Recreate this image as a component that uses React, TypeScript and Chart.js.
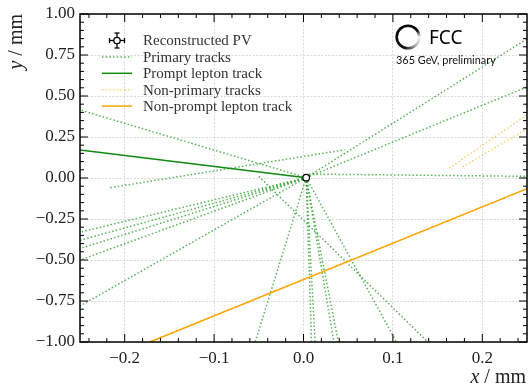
import { useEffect, useRef } from "react";
import { Chart, registerables } from "chart.js";
Chart.register(...registerables);

// ---- data ----
const pvX = [0.003];
const pvY = [0.002];

// primary tracks: [startX, startY, endX, endY]
const primaryTracks: number[][] = [
  [0.003, 0.002, 0.25, 0.848],
  [0.003, 0.002, 0.25, 0.555],
  [0.006, 0.024, 0.25, 0.01],
  [-0.216, -0.059, 0.046, 0.172],
  [0.003, 0.002, -0.25, 0.415],
  [0.003, 0.002, -0.25, -0.33],
  [0.003, 0.002, -0.25, -0.38],
  [0.003, 0.002, -0.25, -0.43],
  [0.003, 0.002, -0.25, -0.5],
  [0.003, 0.002, -0.25, -0.78],
  [0.003, 0.002, -0.054, -1.0],
  [0.003, 0.002, 0.009, -1.0],
  [0.003, 0.002, 0.013, -1.0],
  [0.003, 0.002, 0.034, -1.0],
  [0.003, 0.002, 0.039, -1.0],
  [0.003, 0.002, 0.104, -1.0],
  [-0.05, 0.01, 0.139, -1.0],
];
const promptLeptonX = [-0.25, 0.003];
const promptLeptonY = [0.171, 0.002];
const nonPrimaryTracks: number[][] = [
  [0.163, 0.06, 0.25, 0.385],
  [0.178, 0.068, 0.25, 0.3],
];
const nonPromptLeptonX = [-0.172, 0.25];
const nonPromptLeptonY = [-1.0, -0.065];

const xTicks = [-0.2, -0.1, 0, 0.1, 0.2];
const yTicks = [-1, -0.75, -0.5, -0.25, 0, 0.25, 0.5, 0.75, 1];
const xMinorTicks = [-0.24, -0.22, -0.18, -0.16, -0.14, -0.12, -0.08, -0.06, -0.04, -0.02,
  0.02, 0.04, 0.06, 0.08, 0.12, 0.14, 0.16, 0.18, 0.22, 0.24];
const yMinorTicks = [-0.95, -0.9, -0.85, -0.8, -0.7, -0.65, -0.6, -0.55, -0.45, -0.4, -0.35, -0.3,
  -0.2, -0.15, -0.1, -0.05, 0.05, 0.1, 0.15, 0.2, 0.3, 0.35, 0.4, 0.45, 0.55, 0.6, 0.65, 0.7,
  0.8, 0.85, 0.9, 0.95];
const legendLabels = ["Reconstructed PV", "Primary tracks", "Prompt lepton track", "Non-primary tracks", "Non-prompt lepton track"];
const logoText = "FCC";
const energyText = "365 GeV, preliminary";

// ---- styles ----
const primaryColor = "rgba(44,160,44,0.8)";
const promptColor = "#108a10";
const nonPrimaryColor = "rgba(255,165,0,0.55)";
const nonPromptColor = "#ffa500";
const dotDash = [1.5, 2.2];
const serif = "Liberation Serif";

const fmt = (v: number, d: number) => {
  const s = Math.abs(v).toFixed(d);
  return (v < -1e-9 ? "\u2212" : "") + s;
};

const decor = {
  id: "decor",
  afterDraw(chart: any) {
    const { ctx, chartArea: a, scales } = chart;
    const xs = scales.x, ys = scales.y;
    ctx.save();
    ctx.strokeStyle = "#000";
    ctx.lineWidth = 1;
    const vline = (px: number, y0: number, y1: number) => { ctx.beginPath(); ctx.moveTo(px, y0); ctx.lineTo(px, y1); ctx.stroke(); };
    const hline = (py: number, x0: number, x1: number) => { ctx.beginPath(); ctx.moveTo(x0, py); ctx.lineTo(x1, py); ctx.stroke(); };
    xTicks.forEach((v) => { const p = xs.getPixelForValue(v); vline(p, a.bottom, a.bottom - 8); vline(p, a.top, a.top + 8); });
    xMinorTicks.forEach((v) => { const p = xs.getPixelForValue(v); vline(p, a.bottom, a.bottom - 4); vline(p, a.top, a.top + 4); });
    yTicks.forEach((v) => { const p = ys.getPixelForValue(v); hline(p, a.left, a.left + 8); hline(p, a.right, a.right - 8); });
    yMinorTicks.forEach((v) => { const p = ys.getPixelForValue(v); hline(p, a.left, a.left + 4); hline(p, a.right, a.right - 4); });
    ctx.lineWidth = 1.5;
    ctx.strokeRect(a.left, a.top, a.right - a.left, a.bottom - a.top);

    // legend
    const lx0 = 102, lx1 = 132, tx = 143, ly0 = 40.5, dy = 16.4;
    ctx.font = "15px '" + serif + "', serif";
    ctx.textBaseline = "middle";
    ctx.textAlign = "left";
    legendLabels.forEach((lab, i) => {
      const yy = ly0 + i * dy;
      ctx.fillStyle = "#333";
      ctx.fillText(lab, tx, yy + 1);
      ctx.setLineDash([]);
      if (i === 0) {
        const cx = 117;
        ctx.strokeStyle = "#000"; ctx.lineWidth = 1.3;
        hline(yy, cx - 7.5, cx + 7.5); vline(cx, yy - 7.5, yy + 7.5);
        hline(yy - 7.5, cx - 2.5, cx + 2.5); hline(yy + 7.5, cx - 2.5, cx + 2.5);
        vline(cx - 7.5, yy - 2.5, yy + 2.5); vline(cx + 7.5, yy - 2.5, yy + 2.5);
        ctx.beginPath(); ctx.arc(cx, yy, 3.2, 0, Math.PI * 2); ctx.fillStyle = "#fff"; ctx.fill(); ctx.stroke();
      } else {
        const col = [primaryColor, promptColor, nonPrimaryColor, nonPromptColor][i - 1];
        ctx.strokeStyle = col; ctx.lineWidth = 1.5;
        if (i === 1 || i === 3) ctx.setLineDash(dotDash); else ctx.setLineDash([]);
        hline(yy, lx0, lx1);
        ctx.setLineDash([]);
      }
    });

    // axis titles
    ctx.fillStyle = "#222";
    const tf = "20px '" + serif + "', serif";
    const tfi = "italic 20px '" + serif + "', serif";
    const measure = (v: string) => {
      ctx.font = tfi;
      const w1 = ctx.measureText(v).width;
      ctx.font = tf;
      const w2 = ctx.measureText(" / mm").width;
      return { w1, w2 };
    };
    {
      const { w1, w2 } = measure("x");
      const xr = 526, yb = 378;
      ctx.textBaseline = "middle";
      ctx.font = tfi;
      ctx.fillText("x", xr - w1 - w2, yb);
      ctx.font = tf;
      ctx.fillText(" / mm", xr - w2, yb);
    }
    {
      const { w1, w2 } = measure("y");
      ctx.save();
      ctx.translate(17, 14);
      ctx.rotate(-Math.PI / 2);
      ctx.textBaseline = "middle";
      ctx.font = tfi;
      ctx.fillText("y", -w1 - w2, 0);
      ctx.font = tf;
      ctx.fillText(" / mm", -w2, 0);
      ctx.restore();
    }

    // FCC logo
    const cx = 408, cy = 37, r = 11.3;
    const g = ctx.createConicGradient(0, cx, cy);
    g.addColorStop(0, "#f4f4f4");
    g.addColorStop(0.12, "#bbb");
    g.addColorStop(0.3, "#111");
    g.addColorStop(0.9, "#000");
    g.addColorStop(1, "#f4f4f4");
    ctx.strokeStyle = g;
    ctx.lineWidth = 2.6;
    ctx.beginPath(); ctx.arc(cx, cy, r, 0, Math.PI * 2); ctx.stroke();
    ctx.fillStyle = "#000";
    ctx.font = "19px 'Noto Sans', sans-serif";
    ctx.textBaseline = "alphabetic";
    ctx.fillText(logoText, 429, 44);
    ctx.font = "10.9px Lato, sans-serif";
    ctx.fillStyle = "#111";
    ctx.fillText(energyText, 396, 64);
    ctx.restore();
  },
};

export default function App() {
  const ref = useRef<HTMLCanvasElement>(null);
  useEffect(() => {
    document.body.style.margin = "0";
    const seg = (t: number[]) => [{ x: t[0], y: t[1] }, { x: t[2], y: t[3] }];
    const lineDs = (data: any[], color: string, dashed: boolean, w = 1.5) => ({
      type: "line" as const,
      data,
      borderColor: color,
      borderWidth: w,
      borderDash: dashed ? dotDash : [],
      pointRadius: 0,
      showLine: true,
      fill: false,
      tension: 0,
    });
    const datasets: any[] = [
      {
        type: "scatter",
        data: pvX.map((x, i) => ({ x, y: pvY[i] })),
        pointRadius: 3.3,
        pointBackgroundColor: "#fff",
        pointBorderColor: "#000",
        pointBorderWidth: 1.2,
      },
      lineDs(promptLeptonX.map((x, i) => ({ x, y: promptLeptonY[i] })), promptColor, false, 1.6),
      lineDs(nonPromptLeptonX.map((x, i) => ({ x, y: nonPromptLeptonY[i] })), nonPromptColor, false, 1.6),
      ...nonPrimaryTracks.map((t) => lineDs(seg(t), nonPrimaryColor, true)),
      ...primaryTracks.map((t) => lineDs(seg(t), primaryColor, true)),
    ];
    const tickFont = { family: "'" + serif + "', serif", size: 17, style: "normal" as const, weight: "normal" as const };
    const chart = new Chart(ref.current!, {
      type: "scatter",
      data: { datasets },
      options: {
        animation: false,
        responsive: false,
        events: [],
        layout: { autoPadding: false, padding: { left: 0, right: 1, top: 14, bottom: 0 } },
        plugins: { legend: { display: false }, tooltip: { enabled: false } },
        scales: {
          x: {
            type: "linear",
            min: -0.25,
            max: 0.25,
            afterBuildTicks: (s: any) => { s.ticks = xTicks.map((v) => ({ value: v })); },
            afterFit: (s: any) => { s.height = 45; s.paddingLeft = 0; s.paddingRight = 0; },
            ticks: { callback: (v: any) => fmt(Number(v), 1), color: "#222", font: tickFont, padding: 6, maxRotation: 0, autoSkip: false },
            grid: { color: "#cfcfcf", lineWidth: 0.8, drawTicks: false },
            border: { display: false, dash: [2, 1.6] },
          },
          y: {
            type: "linear",
            min: -1,
            max: 1,
            afterBuildTicks: (s: any) => { s.ticks = yTicks.map((v) => ({ value: v })); },
            afterFit: (s: any) => { s.width = 80; s.paddingTop = 0; s.paddingBottom = 0; },
            ticks: { callback: (v: any) => fmt(Number(v), 2), color: "#222", font: tickFont, padding: 5, autoSkip: false },
            grid: { color: "#cfcfcf", lineWidth: 0.8, drawTicks: false },
            border: { display: false, dash: [2, 1.6] },
          },
        },
      },
      plugins: [decor],
    } as any);
    return () => chart.destroy();
  }, []);
  return <canvas ref={ref} width={528} height={387} style={{ display: "block" }} />;
}
